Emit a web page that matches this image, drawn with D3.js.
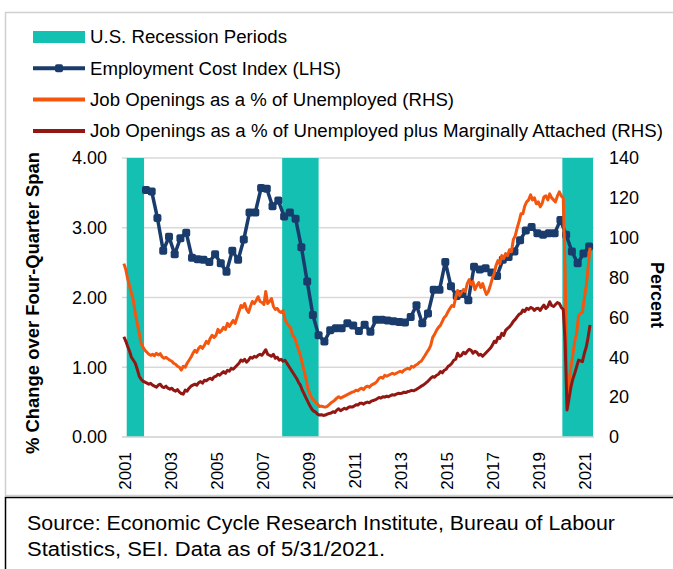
<!DOCTYPE html>
<html>
<head>
<meta charset="utf-8">
<script src="https://cdnjs.cloudflare.com/ajax/libs/d3/7.8.5/d3.min.js"></script>
<style>
  body { margin: 0; background: #fff; }
  text { font-family: 'Liberation Sans', Arial, sans-serif; fill: #000; }
</style>
</head>
<body>
<div id="chart"></div>
<script>

// recession periods (start, end)
const recessions = [
	['2001-03-01', '2001-12-01'],
	['2007-12-01', '2009-07-01'],
	['2020-02-01', '2021-06-01']
]

// Employment Cost Index, % change over four-quarter span, quarterly from Q4 2001 (LHS)
const eciStart = '2002-01-01'
const eciValues = [
	3.54, 3.52, 3.14, 2.67, 2.87, 2.62, 2.85, 2.93, 2.57, 2.55,
	2.54, 2.51, 2.62, 2.49, 2.37, 2.67, 2.54, 2.83, 3.22, 3.22,
	3.57, 3.56, 3.31, 3.39, 3.16, 3.22, 3.13, 2.72, 2.23, 1.75,
	1.46, 1.37, 1.53, 1.56, 1.56, 1.63, 1.60, 1.52, 1.61, 1.51,
	1.68, 1.68, 1.67, 1.66, 1.65, 1.64, 1.72, 1.89, 1.63, 1.77,
	2.11, 2.11, 2.51, 2.16, 2.02, 2.05, 1.96, 2.44, 2.40, 2.42,
	2.36, 2.31, 2.54, 2.58, 2.66, 2.82, 2.96, 3.01, 2.92, 2.90,
	2.92, 2.92, 3.11, 2.90, 2.66, 2.49, 2.63, 2.73
]

// monthly series from Jan 2001 (RHS, percent)
const monthlyStart = '2001-01-15'
const openingsPctUnemployed = [
	87, 84, 79.5, 76, 72, 68.5, 62, 57, 52, 47, 45, 43.5,
	42.5, 41.5, 41, 41.5, 40.8, 42, 41.2, 41.8, 40.2, 39.5, 40, 39.2,
	38.5, 38, 37, 36.5, 35.5, 35, 33.6, 35.5, 35, 37, 38.5, 40,
	42, 43.5, 42.5, 44.5, 45.5, 44.5, 46, 48, 47, 49.5, 51, 50,
	51, 54, 52.5, 53.5, 55, 54, 57, 55.5, 57, 58.5, 57, 60,
	63, 66, 65, 67, 64, 62.5, 65.5, 68, 67, 68.5, 70.4, 68,
	67.5, 66.5, 73, 67, 68, 69.5, 65.5, 64, 64.5, 63, 62.5, 63.5,
	59, 57, 56, 54.5, 51, 50, 47, 44, 41, 37, 33, 29,
	24, 21.5, 19.5, 18.5, 17.5, 16.5, 15.3, 15.5, 15.2, 15, 15.4, 16.2,
	17.2, 17.8, 18.5, 19.5, 20.2, 19.5, 20, 20.5, 21, 21.5, 22, 22.5,
	22.8, 23.5, 23.2, 24, 24.5, 23.8, 25, 25.5, 25, 26, 26.5, 27,
	28, 29.5, 30, 29.5, 31, 30.5, 31, 31.5, 32, 31.5, 32, 32.5,
	33, 32.5, 33.5, 34, 34.5, 34, 35.5, 35, 36, 36.5, 37.5, 38,
	39.5, 41, 42.5, 44, 46, 50, 51.5, 53.5, 55, 56, 58, 60,
	61, 63, 64.5, 66, 65.5, 70, 73.5, 71, 72.5, 74, 73, 77,
	79, 76.5, 78, 74, 76, 77.5, 75, 77, 74, 71.5, 73, 76,
	79.5, 82, 86, 88.5, 87, 91, 89.5, 92, 91, 94, 93, 99,
	101, 105, 108, 112, 112, 116, 118, 119, 121.5, 119, 120, 117,
	118, 115.5, 117, 120.5, 121, 119, 122, 120, 119, 118, 121, 123,
	121, 120, 84, 22, 27, 35, 41, 48, 52, 61, 62, 62.5,
	70, 76, 85, 95
]
const openingsPctUnempMarginal = [
	50.3, 48, 45.5, 43, 40, 38.5, 37, 34, 30.5, 29, 28, 27.5,
	27, 26.5, 26.9, 26, 25.5, 25, 26, 26.5, 25.2, 24.8, 25.5, 24.5,
	24, 24.5, 23.5, 23, 23.8, 22.5, 21.8, 21.5, 23.5, 23, 24.5, 25.5,
	26, 26.5, 26, 27.2, 27.8, 27, 28.5, 28.2, 29, 29.5, 28.8, 30.2,
	30.5, 31.5, 31, 32, 32.8, 32, 33.5, 33, 34.5, 34, 35, 36,
	37, 38.6, 38, 39, 37.5, 38.5, 40, 39.5, 40.5, 40, 41, 41.5,
	41, 42.5, 43.8, 41.5, 41, 40.5, 41.5, 39.5, 40, 38.5, 39, 38,
	38.5, 37, 35.5, 34, 32.5, 31, 29.5, 27.5, 26, 23.5, 21.5, 19.5,
	17.5, 15.5, 14, 13, 12.5, 11.5, 11, 11.2, 10.8, 11, 11.5, 11.8,
	12, 12.7, 12.3, 13.5, 14.2, 13.2, 13.8, 14.4, 14, 14.8, 15.2, 15,
	15.5, 16.2, 16, 16.9, 17, 16.5, 17.2, 17.5, 17.2, 18, 18.3, 18.6,
	19.2, 19.8, 19.5, 20.2, 20, 20.5, 20.2, 20.8, 21.2, 21, 21.5, 21.9,
	21.8, 22, 22.5, 22.3, 22.8, 23, 23.4, 23.2, 23.6, 24.2, 24.8, 25.5,
	26, 26.8, 27.5, 28.5, 29.5, 30.3, 30, 31, 31.5, 32.8, 32.2, 33.5,
	34, 35.5, 36, 37, 38.5, 39, 42, 40.5, 41, 42.5, 41.8, 43,
	44, 43.5, 42, 43, 42.5, 41, 41.5, 40.5, 41.5, 42.5, 43.5, 44.5,
	46, 48, 47.5, 50, 49.5, 52, 51, 53.5, 54.5, 55.3, 56.5, 58,
	59, 60.4, 61.5, 62, 63.7, 63, 64.6, 64, 65, 64.6, 63.5, 64.5,
	64.6, 63.5, 65, 66.2, 64.5, 65.5, 67.9, 66, 65.5, 66.5, 67.5, 67,
	65, 64, 48, 13.5, 19, 25, 29, 32, 35.3, 38.6, 38.2, 37.8,
	42, 45.3, 50, 56.2
]

const yearTicks = [2001, 2003, 2005, 2007, 2009, 2011, 2013, 2015, 2017, 2019, 2021]
const leftTicks = [0, 1, 2, 3, 4]
const rightTicks = [0, 20, 40, 60, 80, 100, 120, 140]

const legendItems = [
	{label: 'U.S. Recession Periods', type: 'rect', color: '#14c0b2', width: 197},
	{label: 'Employment Cost Index (LHS)', type: 'marker', color: '#1a3c6c', width: 251},
	{label: 'Job Openings as a % of Unemployed (RHS)', type: 'line', color: '#f4560e', width: 364},
	{label: 'Job Openings as a % of Unemployed plus Marginally Attached (RHS)', type: 'line', color: '#921712', width: 573}
]

const sourceLines = [
	{text: 'Source: Economic Cycle Research Institute, Bureau of Labour', width: 588},
	{text: 'Statistics, SEI. Data as of 5/31/2021.', width: 358}
]

const W = 673, H = 569
const plot = {left: 123, right: 593, top: 158, bottom: 437}

const parse = d3.timeParse('%Y-%m-%d')

const svg = d3.select('#chart').append('svg')
	.attr('width', W)
	.attr('height', H)

// outer frames
svg.append('rect')
	.attr('x', 5.5).attr('y', 12.5)
	.attr('width', 700).attr('height', 483)
	.attr('fill', 'none')
	.attr('stroke', '#d0d0d0')
	.attr('stroke-width', 1.5)

svg.append('rect')
	.attr('x', 5.5).attr('y', 497.5)
	.attr('width', 700).attr('height', 100)
	.attr('fill', 'none')
	.attr('stroke', '#000')
	.attr('stroke-width', 1.5)

const x = d3.scaleTime()
	.domain([parse('2001-01-01'), parse('2021-06-01')])
	.range([plot.left, plot.right])

const yL = d3.scaleLinear()
	.domain([0, 4])
	.range([plot.bottom, plot.top])

const yR = d3.scaleLinear()
	.domain([0, 140])
	.range([plot.bottom, plot.top])

// gridlines
svg.append('g')
	.selectAll('line')
	.data(leftTicks)
	.join('line')
	.attr('x1', plot.left - 1)
	.attr('x2', plot.right + 1)
	.attr('y1', d => yL(d))
	.attr('y2', d => yL(d))
	.attr('stroke', '#d9d9d9')
	.attr('stroke-width', 1.5)

// recession bars
svg.append('g')
	.selectAll('rect')
	.data(recessions)
	.join('rect')
	.attr('x', d => x(parse(d[0])))
	.attr('width', d => x(parse(d[1])) - x(parse(d[0])))
	.attr('y', plot.top)
	.attr('height', plot.bottom - plot.top)
	.attr('fill', legendItems[0].color)

// series
const m0 = parse(monthlyStart)
const openData = openingsPctUnemployed.map((v, i) => ({date: d3.timeMonth.offset(m0, i), value: v}))
const margData = openingsPctUnempMarginal.map((v, i) => ({date: d3.timeMonth.offset(m0, i), value: v}))
const q0 = parse(eciStart)
const eciData = eciValues.map((v, i) => ({date: d3.timeMonth.offset(q0, 3 * i), value: v}))

const lineL = d3.line().x(d => x(d.date)).y(d => yL(d.value))
const lineR = d3.line().x(d => x(d.date)).y(d => yR(d.value))

svg.append('path')
	.datum(eciData)
	.attr('d', lineL)
	.attr('fill', 'none')
	.attr('stroke', legendItems[1].color)
	.attr('stroke-width', 3.5)
	.attr('stroke-linejoin', 'round')

svg.append('g')
	.selectAll('rect')
	.data(eciData)
	.join('rect')
	.attr('x', d => x(d.date) - 4)
	.attr('y', d => yL(d.value) - 4)
	.attr('width', 8)
	.attr('height', 8)
	.attr('rx', 2)
	.attr('fill', legendItems[1].color)

svg.append('path')
	.datum(openData)
	.attr('d', lineR)
	.attr('fill', 'none')
	.attr('stroke', legendItems[2].color)
	.attr('stroke-width', 3)
	.attr('stroke-linejoin', 'round')

svg.append('path')
	.datum(margData)
	.attr('d', lineR)
	.attr('fill', 'none')
	.attr('stroke', legendItems[3].color)
	.attr('stroke-width', 3)
	.attr('stroke-linejoin', 'round')

// left axis
const yAxisL = d3.axisLeft(yL)
	.tickValues(leftTicks)
	.tickFormat(d3.format('.2f'))
	.tickSize(0)
	.tickPadding(16)

svg.append('g')
	.attr('transform', `translate(${plot.left},0)`)
	.call(yAxisL)
	.call(g => g.select('.domain').remove())
	.selectAll('text')
	.attr('font-size', 18)
	.attr('font-family', null)

// right axis
const yAxisR = d3.axisRight(yR)
	.tickValues(rightTicks)
	.tickSize(0)
	.tickPadding(16)

svg.append('g')
	.attr('transform', `translate(${plot.right},0)`)
	.call(yAxisR)
	.call(g => g.select('.domain').remove())
	.selectAll('text')
	.attr('font-size', 18)
	.attr('font-family', null)

// x axis line + year labels
svg.append('line')
	.attr('x1', plot.left - 1).attr('x2', plot.right + 1)
	.attr('y1', plot.bottom).attr('y2', plot.bottom)
	.attr('stroke', '#d9d9d9')
	.attr('stroke-width', 1.5)

svg.append('g')
	.selectAll('text')
	.data(yearTicks)
	.join('text')
	.attr('transform', d => `translate(${x(parse(d + '-01-01')) + 2},452) rotate(-90)`)
	.attr('text-anchor', 'end')
	.attr('dy', '0.35em')
	.attr('font-size', 17)
	.text(d => d)

// axis titles
svg.append('text')
	.attr('transform', 'translate(33,303) rotate(-90)')
	.attr('text-anchor', 'middle')
	.attr('dy', '0.35em')
	.attr('font-size', 18)
	.attr('font-weight', 'bold')
	.attr('textLength', 302)
	.attr('lengthAdjust', 'spacingAndGlyphs')
	.text('% Change over Four-Quarter Span')

svg.append('text')
	.attr('transform', 'translate(657,295) rotate(90)')
	.attr('text-anchor', 'middle')
	.attr('dy', '0.35em')
	.attr('font-size', 18)
	.attr('font-weight', 'bold')
	.text('Percent')

// legend
const legend = svg.append('g')
	.selectAll('g')
	.data(legendItems)
	.join('g')
	.attr('transform', (d, i) => `translate(33,${37 + i * 31.3})`)

legend.filter(d => d.type === 'rect').append('rect')
	.attr('x', 0).attr('y', -6)
	.attr('width', 52).attr('height', 12)
	.attr('fill', d => d.color)

legend.filter(d => d.type !== 'rect').append('line')
	.attr('x1', 0).attr('x2', 52)
	.attr('stroke', d => d.color)
	.attr('stroke-width', 4)

legend.filter(d => d.type === 'marker').append('rect')
	.attr('x', 22).attr('y', -4)
	.attr('width', 8).attr('height', 8)
	.attr('rx', 2)
	.attr('fill', d => d.color)

legend.append('text')
	.attr('x', 57)
	.attr('dy', '0.35em')
	.attr('font-size', 18)
	.attr('textLength', d => d.width)
	.attr('lengthAdjust', 'spacingAndGlyphs')
	.text(d => d.label)

// source note
svg.append('g')
	.selectAll('text')
	.data(sourceLines)
	.join('text')
	.attr('x', 27)
	.attr('y', (d, i) => 530 + i * 26)
	.attr('font-size', 20)
	.attr('textLength', d => d.width)
	.attr('lengthAdjust', 'spacingAndGlyphs')
	.text(d => d.text)

</script>
</body>
</html>
